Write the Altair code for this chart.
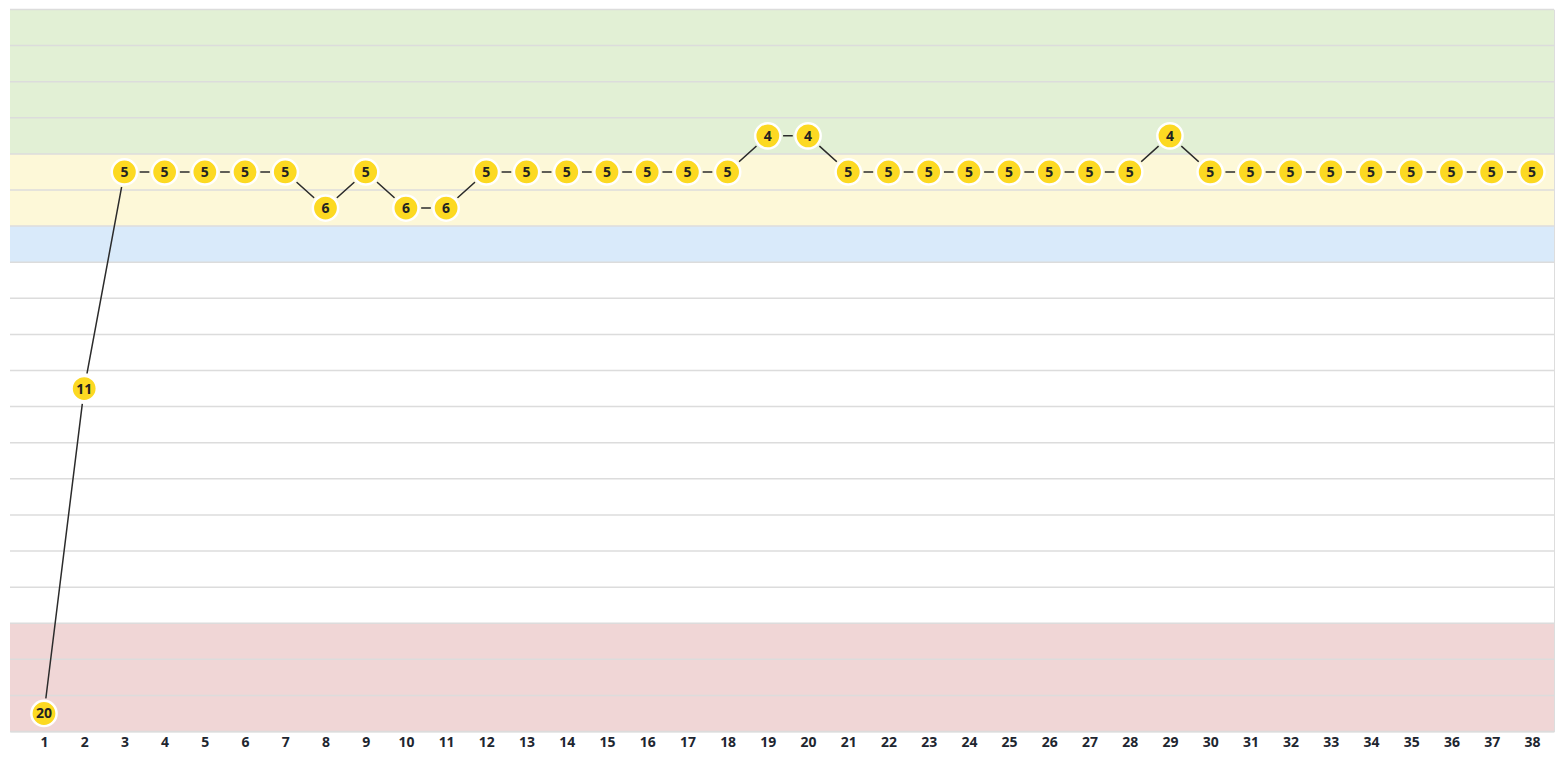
import altair as alt
import pandas as pd

# ---- data ----
rounds = list(range(1, 39))
positions = [20, 11, 5, 5, 5, 5, 5, 6, 5, 6, 6, 5, 5, 5, 5, 5, 5, 5, 4, 4,
             5, 5, 5, 5, 5, 5, 5, 5, 4, 5, 5, 5, 5, 5, 5, 5, 5, 5]

band_zone = ["top", "mid", "upper", "plain", "bottom"]
band_from = [1, 5, 7, 8, 18]
band_to = [4, 6, 7, 17, 20]
band_colors = ["#e2f0d5", "#fdf8d8", "#d9eafa", "#ffffff", "#f0d6d6"]

n_rows = 20


def zone_of(p):
    for z, a, b in zip(band_zone, band_from, band_to):
        if a <= p <= b:
            return z
    return "plain"


df = pd.DataFrame({"round": rounds, "pos": positions})
df["zone"] = [zone_of(p) for p in positions]
bands = pd.DataFrame({
    "zone": band_zone,
    "y0": [v - 0.5 for v in band_from],
    "y1": [v + 0.5 for v in band_to],
})
grid = pd.DataFrame({"g": [i + 0.5 for i in range(0, n_rows + 1)]})

W = 1546
H = 723

xscale = alt.Scale(domain=[0.155, 38.55], nice=False, zero=False)
yscale = alt.Scale(domain=[0.5, n_rows + 0.5], reverse=True, nice=False, zero=False)
zone_scale = alt.Scale(domain=band_zone, range=band_colors)

band_layer = alt.Chart(bands).mark_rect().encode(
    y=alt.Y("y0:Q", scale=yscale, axis=None),
    y2="y1:Q",
    color=alt.Color("zone:N", scale=zone_scale, legend=None),
)

grid_layer = alt.Chart(grid).mark_rule(color="#dcdcdc", strokeWidth=1.5).encode(
    y=alt.Y("g:Q", scale=yscale, axis=None),
)

xaxis = alt.Axis(
    values=rounds, title=None, grid=False, ticks=False, domain=False,
    labelFont="Open Sans", labelFontWeight="bold", labelFontSize=14,
    labelColor="#1e2630", labelPadding=4, tickSize=0, labelAngle=0,
)

line_layer = alt.Chart(df).mark_line(color="#2b2b2b", strokeWidth=1.5).encode(
    x=alt.X("round:Q", scale=xscale, axis=xaxis),
    y=alt.Y("pos:Q", scale=yscale, axis=None),
)

# halo in the colour of the band behind each point, so the line stops short of it
halo_layer = alt.Chart(df).mark_point(
    filled=True, shape="circle", size=940, strokeWidth=0, opacity=1,
).encode(
    x=alt.X("round:Q", scale=xscale),
    y=alt.Y("pos:Q", scale=yscale),
    fill=alt.Fill("zone:N", scale=zone_scale, legend=None),
)

point_layer = alt.Chart(df).mark_point(
    filled=True, shape="circle", size=640, fill="#fcd922", stroke="#ffffff",
    strokeWidth=2.5, opacity=1, fillOpacity=1,
).encode(
    x=alt.X("round:Q", scale=xscale),
    y=alt.Y("pos:Q", scale=yscale),
)

text_layer = alt.Chart(df).mark_text(
    font="Open Sans", fontWeight="bold", fontSize=14, color="#222222",
    baseline="middle", align="center", dy=1,
).encode(
    x=alt.X("round:Q", scale=xscale),
    y=alt.Y("pos:Q", scale=yscale),
    text="pos:Q",
)

chart = alt.layer(band_layer, grid_layer, line_layer, halo_layer, point_layer, text_layer).properties(
    width=W, height=H, padding={"left": 1, "top": 0, "right": 0, "bottom": 0},
).configure_view(stroke=None).configure(background="white")

chart.save("out.html", embed_options={"renderer": "svg", "actions": False})
